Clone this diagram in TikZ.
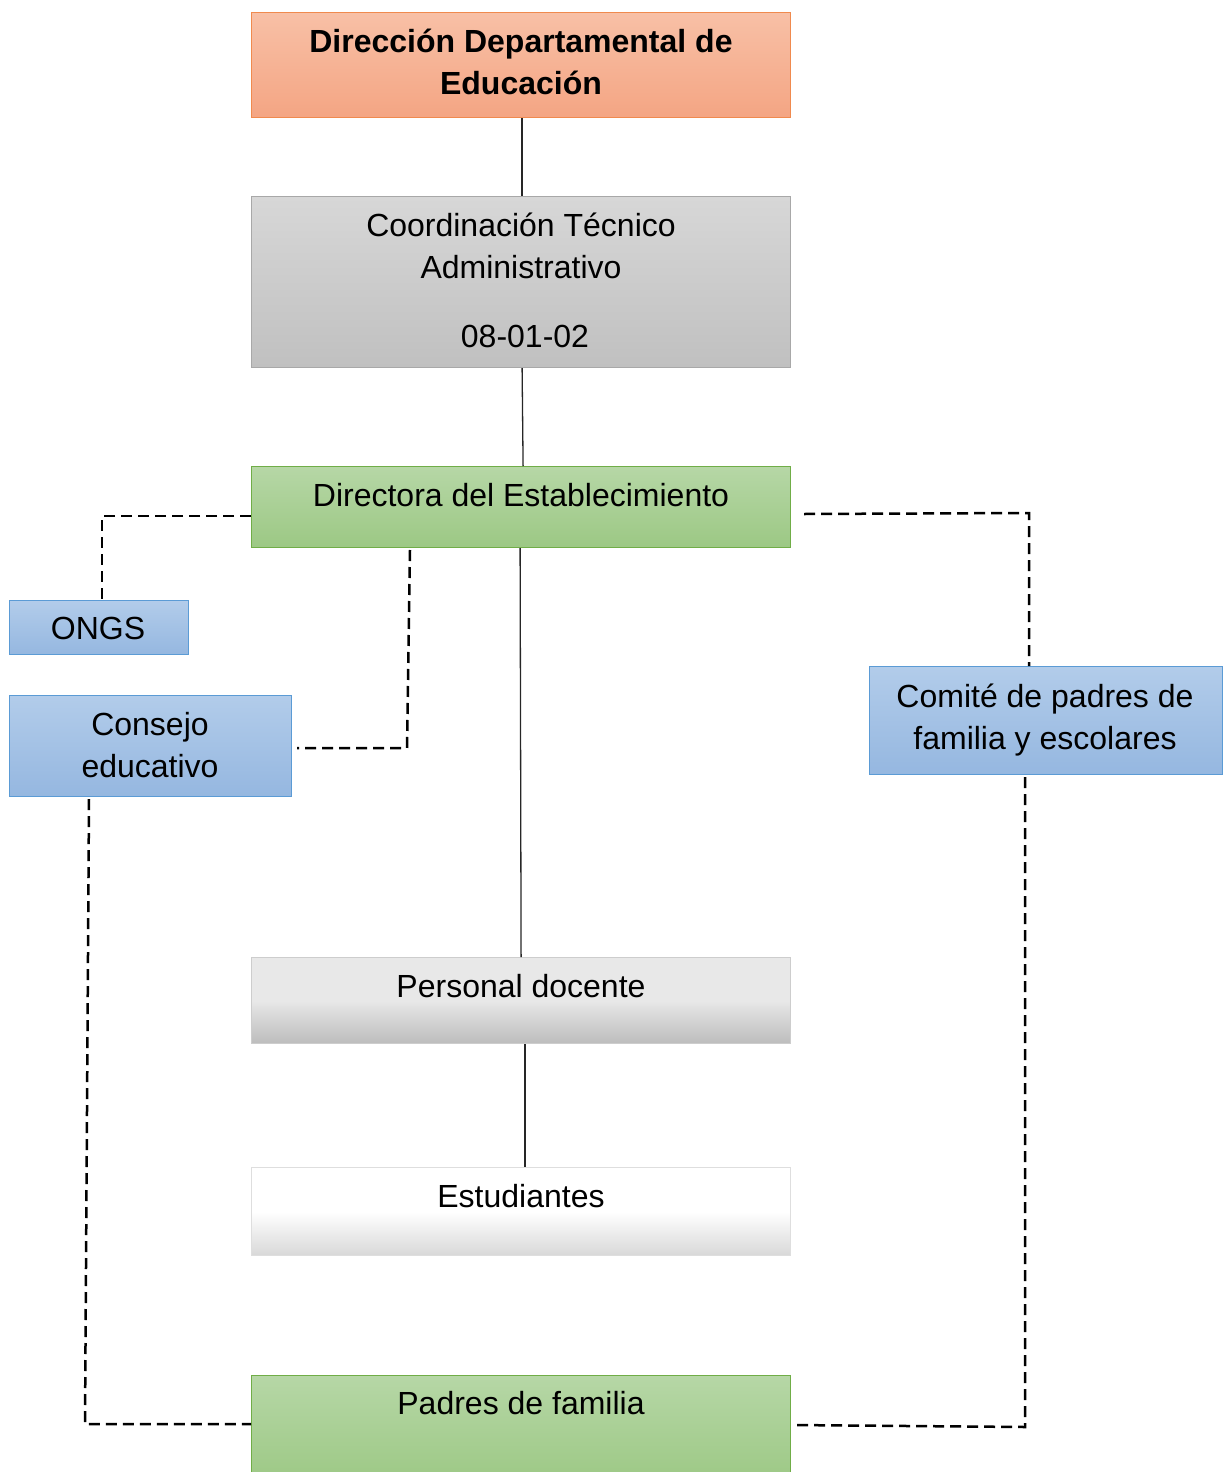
\documentclass[tikz,border=0pt]{standalone}
\usepackage{fontspec}
\setmainfont{Liberation Sans}
\begin{document}
\begin{tikzpicture}[x=1pt,y=-1pt,
  box/.style={draw, line width=1.2pt, rectangle, anchor=north west, inner sep=0pt},
  orangebox/.style={box, draw=orgB, top color=orgT, bottom color=orgM},
  graybox/.style={box, draw=grB, top color=grT, bottom color=grM},
  greenbox/.style={box, draw=gnB, top color=gnT, bottom color=gnM},
  bluebox/.style={box, draw=blB, top color=blT, bottom color=blM},
  silverbox/.style={box, draw=svB, top color=svT, bottom color=svM, middle color=svT},
  whitebox/.style={box, draw=wtB, top color=white, bottom color=wtM, middle color=white},
  txt/.style={font=\fontsize{32}{42}\selectfont, align=center, anchor=base, inner sep=0pt},
  solid line/.style={draw=black!85, line width=1.3pt},
  dline/.style={draw=black, line width=2.5pt, dash pattern=on 11pt off 6pt}
]
\definecolor{orgT}{RGB}{248,192,166}
\definecolor{orgM}{RGB}{244,165,131}
\definecolor{orgB}{RGB}{240,138,78}
\definecolor{grT}{RGB}{215,215,215}
\definecolor{grM}{RGB}{192,192,192}
\definecolor{grB}{RGB}{168,168,168}
\definecolor{gnT}{RGB}{182,215,166}
\definecolor{gnM}{RGB}{156,200,132}
\definecolor{gnB}{RGB}{112,173,71}
\definecolor{blT}{RGB}{178,204,234}
\definecolor{blM}{RGB}{149,183,224}
\definecolor{blB}{RGB}{91,155,213}
\definecolor{svT}{RGB}{232,232,232}
\definecolor{svM}{RGB}{188,188,188}
\definecolor{svB}{RGB}{205,205,205}
\definecolor{wtM}{RGB}{216,216,216}
\definecolor{wtB}{RGB}{222,222,222}

\useasboundingbox (0,0) rectangle (1223,1472);

% boxes
\node[orangebox, minimum width=539pt, minimum height=105pt] (dde) at (251,12) {};
\node[graybox, minimum width=539pt, minimum height=171pt] (cta) at (251,196) {};
\node[greenbox, minimum width=539pt, minimum height=81pt] (dir) at (251,466) {};
\node[bluebox, minimum width=179pt, minimum height=54pt] (ong) at (9,600) {};
\node[bluebox, minimum width=282pt, minimum height=101pt] (con) at (9,695) {};
\node[bluebox, minimum width=353pt, minimum height=108pt] (com) at (869,666) {};
\node[silverbox, minimum width=539pt, minimum height=86pt] (per) at (251,957) {};
\node[whitebox, minimum width=539pt, minimum height=88pt] (est) at (251,1167) {};
\node[greenbox, minimum width=539pt, minimum height=110pt] (pad) at (251,1375) {};

% texts (multi-line nodes: base = last line)
\node[txt, font=\fontsize{32}{42}\selectfont\bfseries] (tdde) at (521,94) {Dirección Departamental de\\Educación};
\node[txt] (tcta) at (521,347) {Coordinación Técnico\\Administrativo\\[27pt]\hspace*{8pt}08-01-02};
\node[txt] (tdir) at (521,506) {Directora del Establecimiento};
\node[txt] (tong) at (98,639) {ONGS};
\node[txt] (tcon) at (150,777) {Consejo\\educativo};
\node[txt] (tcom) at (1045,749) {Comité de padres de\\familia y escolares};
\node[txt] (tper) at (521,997) {Personal docente};
\node[txt] (test) at (521,1207) {Estudiantes};
\node[txt] (tpad) at (521,1414) {Padres de familia};

% solid connectors
\draw[solid line] ([xshift=1pt]dde.south) -- ([xshift=1pt]cta.north);
\draw[solid line] ([xshift=1pt]cta.south) -- ([xshift=2pt]dir.north);
\draw[solid line] ([xshift=-1pt]dir.south) -- (per.north);
\draw[solid line] ([xshift=4pt]per.south) -- ([xshift=4pt]est.north);

% dashed connectors
\coordinate (a1) at (102,516);
\draw[dline] (dir.west |- a1) -- (a1) -- (a1 |- ong.north);
\coordinate (a2) at (410,550);
\draw[dline] (a2) -- (407,748) -- ([xshift=5pt]con.east |- 0,748);
\coordinate (a3) at (1029,513);
\draw[dline] (804,514) -- (a3) -- (a3 |- com.north);
\draw[dline] (89,799) -- (85,1424) -- (pad.west |- 0,1424);
\draw[dline] (1025,777) -- (1025,1427) -- (pad.east |- 0,1425);
\end{tikzpicture}
\end{document}
